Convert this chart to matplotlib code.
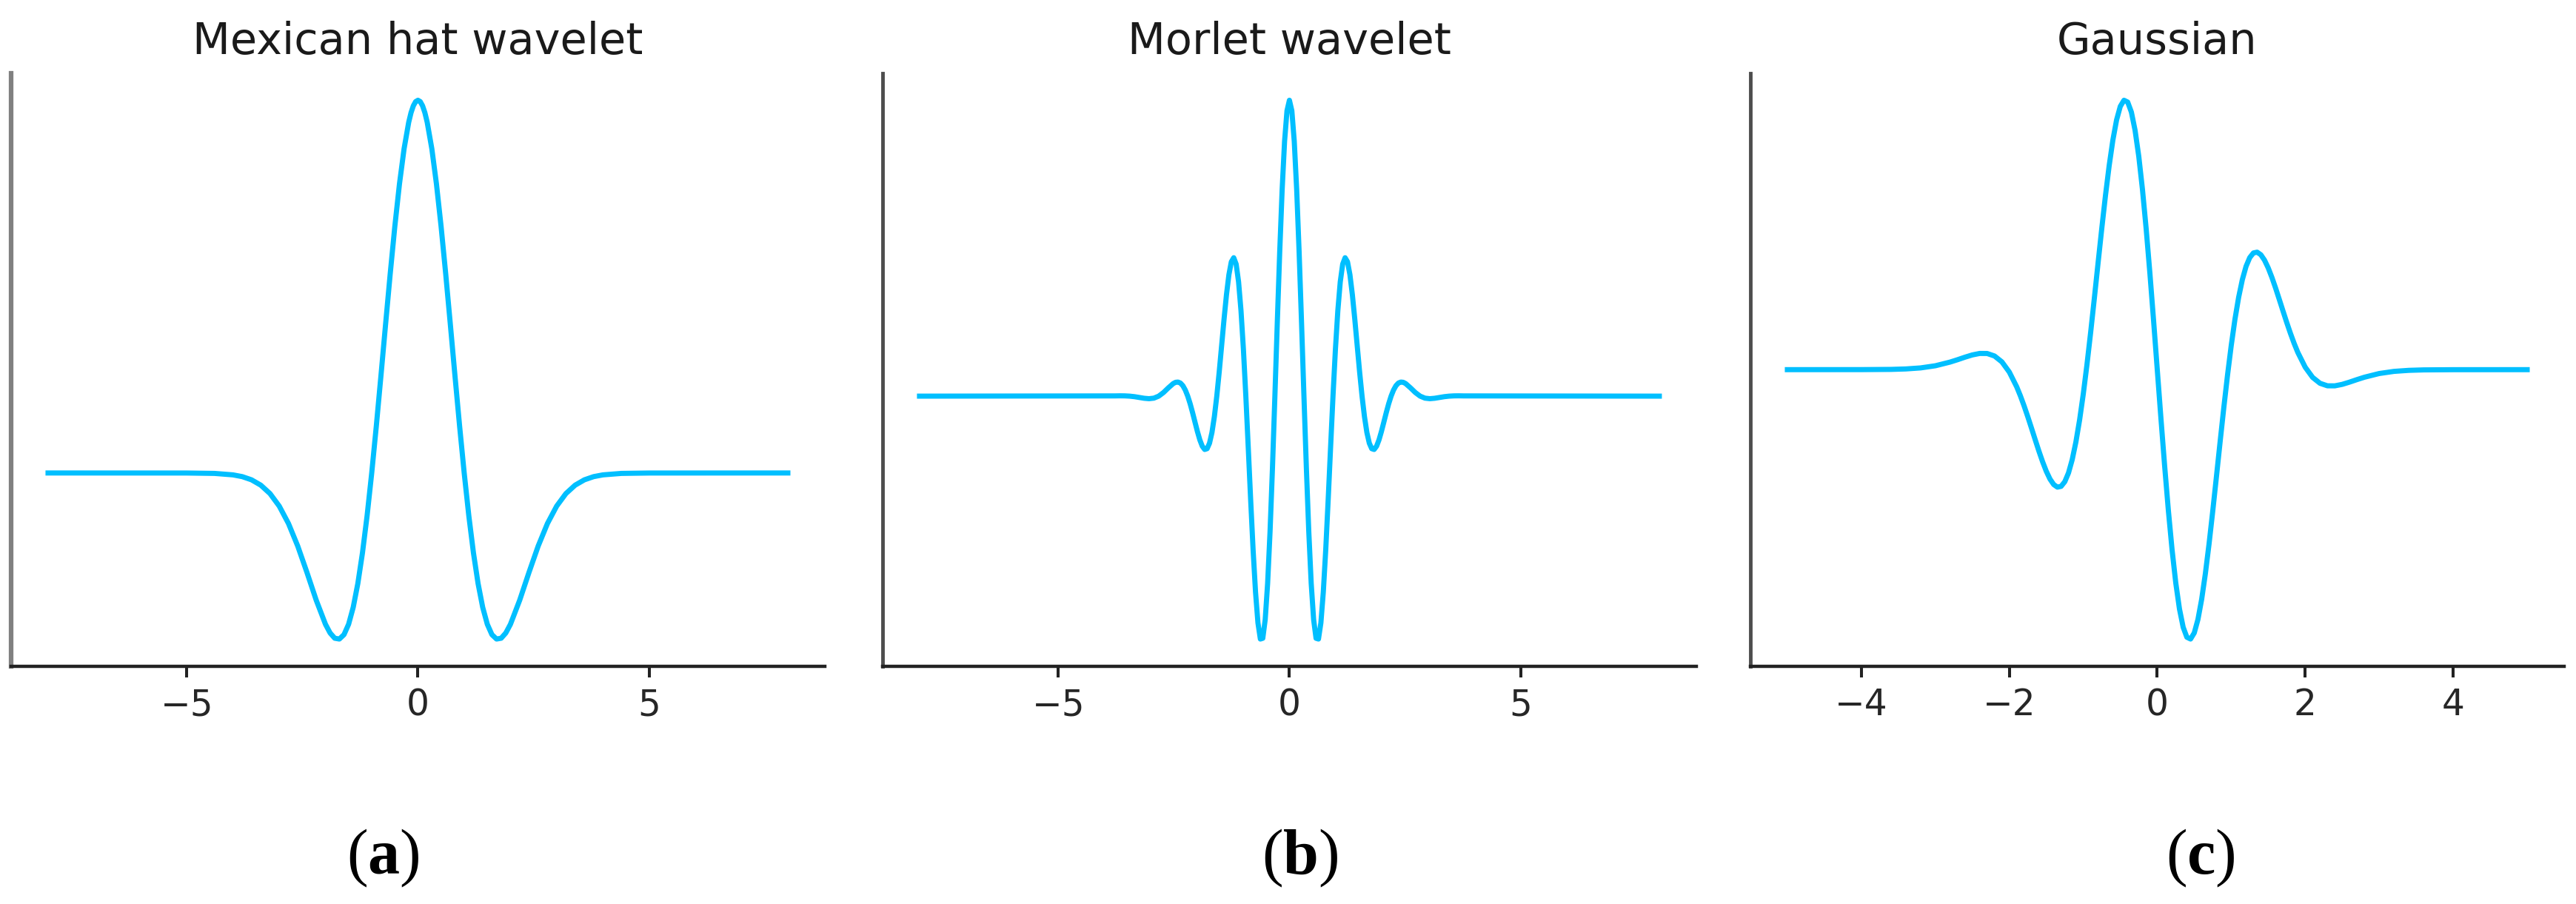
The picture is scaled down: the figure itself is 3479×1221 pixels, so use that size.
import matplotlib
matplotlib.use('Agg')
import matplotlib.pyplot as plt

# caption font: "(" regular, letter bold
plt.rcParams['mathtext.fontset'] = 'custom'
plt.rcParams['mathtext.rm'] = 'Liberation Serif'
plt.rcParams['mathtext.bf'] = 'Liberation Serif:bold'

# Mexican hat wavelet
mexh_x = [-8.0, -5.0, -4.4, -4.0, -3.8, -3.6, -3.4, -3.2, -3.0, -2.8, -2.6, -2.4, -2.2,
          -2.0, -1.9, -1.8, -1.7, -1.6, -1.5, -1.4, -1.3, -1.2, -1.1, -1.0, -0.9, -0.8,
          -0.7, -0.6, -0.5, -0.4, -0.3, -0.2, -0.15, -0.1, -0.05, 0.0, 0.05, 0.1, 0.15,
          0.2, 0.3, 0.4, 0.5, 0.6, 0.7, 0.8, 0.9, 1.0, 1.1, 1.2, 1.3, 1.4, 1.5, 1.6, 1.7,
          1.8, 1.9, 2.0, 2.2, 2.4, 2.6, 2.8, 3.0, 3.2, 3.4, 3.6, 3.8, 4.0, 4.4, 5.0, 8.0]
mexh_y = [0.0, -0.0001, -0.0010, -0.0044, -0.0085, -0.0159, -0.0283, -0.0479, -0.0771,
          -0.1177, -0.1701, -0.2317, -0.2961, -0.3521, -0.3723, -0.3845, -0.3864, -0.3762,
          -0.3520, -0.3125, -0.2571, -0.1857, -0.0995, 0.0, 0.1099, 0.2267, 0.3462,
          0.4636, 0.5740, 0.6725, 0.7545, 0.8161, 0.8383, 0.8543, 0.8641, 0.8673, 0.8641,
          0.8543, 0.8383, 0.8161, 0.7545, 0.6725, 0.5740, 0.4636, 0.3462, 0.2267, 0.1099,
          0.0, -0.0995, -0.1857, -0.2571, -0.3125, -0.3520, -0.3762, -0.3864, -0.3845,
          -0.3723, -0.3521, -0.2961, -0.2317, -0.1701, -0.1177, -0.0771, -0.0479, -0.0283,
          -0.0159, -0.0085, -0.0044, -0.0010, -0.0001, 0.0]

# Morlet wavelet
morl_x = [-8.0, -3.7699, -3.6652, -3.5605, -3.4558, -3.3510, -3.2463, -3.1416, -3.0369,
          -2.9322, -2.8274, -2.7227, -2.6180, -2.5133, -2.4609, -2.4086, -2.3562, -2.3038,
          -2.2515, -2.1991, -2.1468, -2.0944, -2.0420, -1.9897, -1.9373, -1.8850, -1.8326,
          -1.7802, -1.7279, -1.6755, -1.6232, -1.5708, -1.5184, -1.4661, -1.4137, -1.3614,
          -1.3090, -1.2566, -1.2043, -1.1519, -1.0996, -1.0472, -0.9948, -0.9425, -0.8901,
          -0.8378, -0.7854, -0.7330, -0.6807, -0.6283, -0.5760, -0.5236, -0.4712, -0.4189,
          -0.3665, -0.3142, -0.2618, -0.2094, -0.1571, -0.1047, -0.0524,
          0.0, 0.0524, 0.1047, 0.1571, 0.2094, 0.2618, 0.3142, 0.3665, 0.4189, 0.4712,
          0.5236, 0.5760, 0.6283, 0.6807, 0.7330, 0.7854, 0.8378, 0.8901, 0.9425, 0.9948,
          1.0472, 1.0996, 1.1519, 1.2043, 1.2566, 1.3090, 1.3614, 1.4137, 1.4661, 1.5184,
          1.5708, 1.6232, 1.6755, 1.7279, 1.7802, 1.8326, 1.8850, 1.9373, 1.9897, 2.0420,
          2.0944, 2.1468, 2.1991, 2.2515, 2.3038, 2.3562, 2.4086, 2.4609, 2.5133, 2.6180,
          2.7227, 2.8274, 2.9322, 3.0369, 3.1416, 3.2463, 3.3510, 3.4558, 3.5605, 3.6652,
          3.7699, 8.0]
morl_y = [0.0, 0.0008, 0.0011, 0.0009, 0.0, -0.0018, -0.0045, -0.0072, -0.0086, -0.0068,
          0.0, 0.0123, 0.0281, 0.0425, 0.0468, 0.0476, 0.0441, 0.0352, 0.0205, 0.0,
          -0.0258, -0.0558, -0.0879, -0.1196, -0.1479, -0.1692, -0.1802, -0.1776, -0.1589,
          -0.1229, -0.0693, 0.0, 0.0817, 0.1707, 0.2603, 0.3428, 0.4101, 0.4540, 0.4678,
          0.4461, 0.3863, 0.2890, 0.1578, 0.0, -0.1742, -0.3520, -0.5195, -0.6620, -0.7662,
          -0.8209, -0.8183, -0.7551, -0.6328, -0.4580, -0.2420, 0.0, 0.2501, 0.4892, 0.6984,
          0.8613, 0.9646,
          1.0, 0.9646, 0.8613, 0.6984, 0.4892, 0.2501, 0.0, -0.2420, -0.4580, -0.6328,
          -0.7551, -0.8183, -0.8209, -0.7662, -0.6620, -0.5195, -0.3520, -0.1742, 0.0,
          0.1578, 0.2890, 0.3863, 0.4461, 0.4678, 0.4540, 0.4101, 0.3428, 0.2603, 0.1707,
          0.0817, 0.0, -0.0693, -0.1229, -0.1589, -0.1776, -0.1802, -0.1692, -0.1479,
          -0.1196, -0.0879, -0.0558, -0.0258, 0.0, 0.0205, 0.0352, 0.0441, 0.0476, 0.0468,
          0.0425, 0.0281, 0.0123, 0.0, -0.0068, -0.0086, -0.0072, -0.0045, -0.0018, 0.0,
          0.0009, 0.0011, 0.0008, 0.0]

# Gaussian (5th derivative)
gaus_x = [-5.0, -4.0, -3.6, -3.4, -3.2, -3.0, -2.8, -2.7, -2.6, -2.5, -2.4, -2.3, -2.2,
          -2.1, -2.0, -1.9, -1.85, -1.8, -1.75, -1.7, -1.65, -1.6, -1.55, -1.5, -1.45,
          -1.4, -1.35, -1.3, -1.25, -1.2, -1.15, -1.1, -1.05, -1.0, -0.95, -0.90, -0.85,
          -0.80, -0.75, -0.70, -0.65, -0.60, -0.55, -0.50, -0.45, -0.40, -0.35, -0.30,
          -0.25, -0.20, -0.15, -0.10, -0.05,
          0.0, 0.05, 0.10, 0.15, 0.20, 0.25, 0.30, 0.35, 0.40, 0.45, 0.50, 0.55, 0.60,
          0.65, 0.70, 0.75, 0.80, 0.85, 0.90, 0.95, 1.0, 1.05, 1.1, 1.15, 1.2, 1.25, 1.3,
          1.35, 1.4, 1.45, 1.5, 1.55, 1.6, 1.65, 1.7, 1.75, 1.8, 1.85, 1.9, 2.0, 2.1, 2.2,
          2.3, 2.4, 2.5, 2.6, 2.7, 2.8, 3.0, 3.2, 3.4, 3.6, 4.0, 5.0]
gaus_y = [0.0, 0.0001, 0.0006, 0.0017, 0.0042, 0.0094, 0.0184, 0.0241, 0.0302, 0.0357,
          0.0393, 0.0392, 0.0331, 0.0188, -0.0059, -0.0417, -0.0637, -0.0881, -0.1144,
          -0.1420, -0.1700, -0.1976, -0.2235, -0.2466, -0.2655, -0.2787, -0.2850, -0.2831,
          -0.2718, -0.2505, -0.2184, -0.1755, -0.1221, -0.0589, 0.0128, 0.0912, 0.1742,
          0.2591, 0.3429, 0.4227, 0.4951, 0.5571, 0.6058, 0.6386, 0.6535, 0.6491, 0.6248,
          0.5805, 0.5173, 0.4368, 0.3415, 0.2345, 0.1193,
          0.0, -0.1193, -0.2345, -0.3415, -0.4368, -0.5173, -0.5805, -0.6248, -0.6491,
          -0.6535, -0.6386, -0.6058, -0.5571, -0.4951, -0.4227, -0.3429, -0.2591, -0.1742,
          -0.0912, -0.0128, 0.0589, 0.1221, 0.1755, 0.2184, 0.2505, 0.2718, 0.2831,
          0.2850, 0.2787, 0.2655, 0.2466, 0.2235, 0.1976, 0.1700, 0.1420, 0.1144, 0.0881,
          0.0637, 0.0417, 0.0059, -0.0188, -0.0331, -0.0392, -0.0393, -0.0357, -0.0302,
          -0.0241, -0.0184, -0.0094, -0.0042, -0.0017, -0.0006, -0.0001, 0.0]

titles = ['Mexican hat wavelet', 'Morlet wavelet', 'Gaussian']
captions = ['a', 'b', 'c']
xticks = [[-5, 0, 5], [-5, 0, 5], [-4, -2, 0, 2, 4]]
series = [(mexh_x, mexh_y), (morl_x, morl_y), (gaus_x, gaus_y)]

# panel layout (figure fractions)
lefts = [0.0043, 0.3426, 0.6795]
left_spine = [('#808080', 4.5), ('#4d4d4d', 3.5), ('#4d4d4d', 3.5)]
caption_x = [0.1486, 0.5047, 0.8543]

fig = plt.figure(figsize=(34.79, 12.21), dpi=100)

for i in range(3):
    ax = fig.add_axes([lefts[i], 0.2633, 0.3159, 0.6556])
    x, y = series[i]
    ax.plot(x, y, color='#00BFFF', linewidth=5)

    ax.set_title(titles[i], fontsize=42.5, pad=19, color='#1a1a1a')
    ax.set_yticks([])
    ax.set_xticks(xticks[i])

    ax.spines['top'].set_visible(False)
    ax.spines['right'].set_visible(False)
    ax.spines['bottom'].set_linewidth(3.2)
    ax.spines['bottom'].set_color('#222222')
    ax.spines['left'].set_color(left_spine[i][0])
    ax.spines['left'].set_linewidth(left_spine[i][1])

    ax.tick_params(axis='x', length=10.8, width=2.9, color='#222222',
                   labelsize=35, labelcolor='#262626', pad=10)

    fig.text(caption_x[i], 0.05, r'($\mathbf{%s}$)' % captions[i],
             ha='center', va='center', fontsize=62, family='Liberation Serif')

fig.savefig('out.png', dpi=100)
